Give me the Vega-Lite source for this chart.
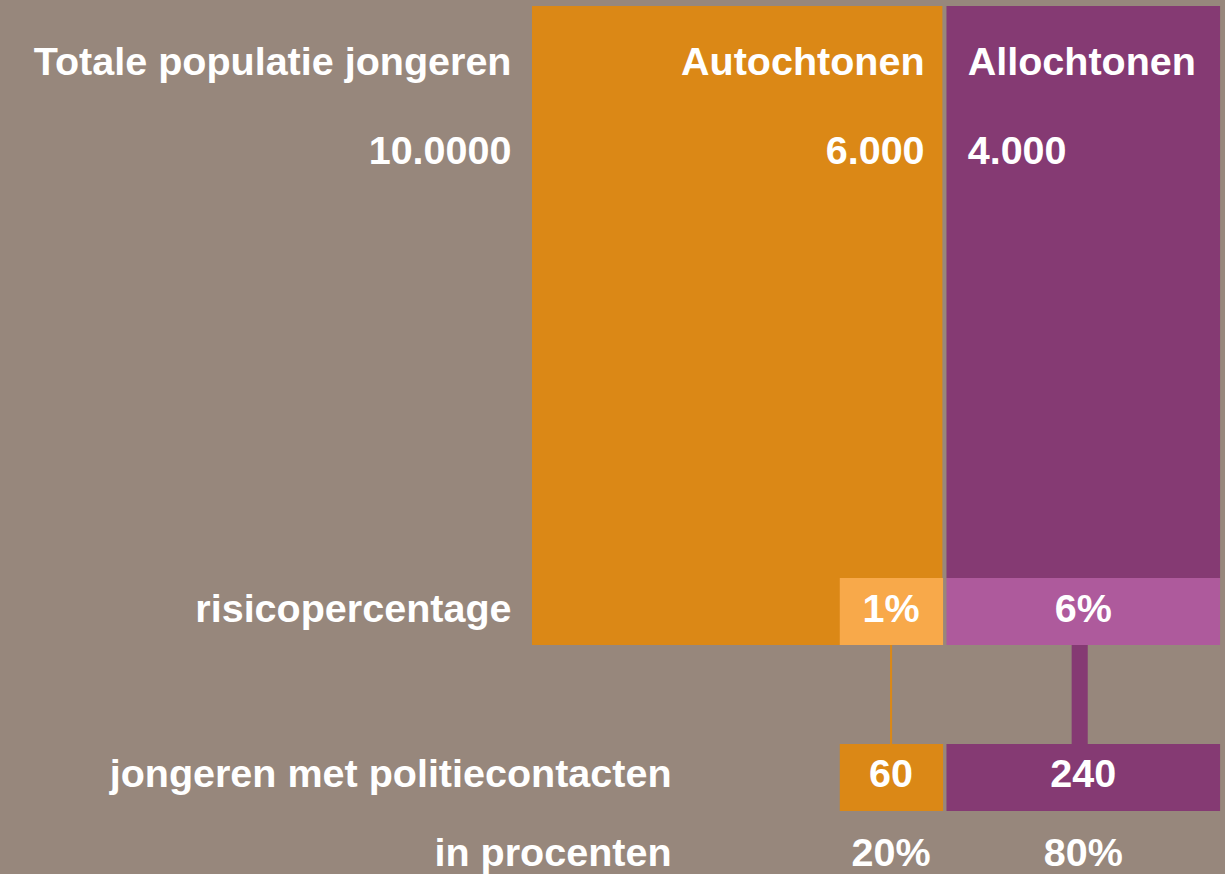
{
  "$schema": "https://vega.github.io/schema/vega-lite/v6.json",
  "width": 1225,
  "height": 874,
  "autosize": {"type": "fit", "contains": "padding"},
  "padding": 0,
  "background": "#97877c",
  "config": {"view": {"stroke": null}, "text": {"font": "Liberation Sans", "fontWeight": "bold", "fontSize": 39.5, "color": "#ffffff", "baseline": "alphabetic"}},
  "datasets": {
    "vlakken": [
      {"groep": "Autochtonen", "laag": "populatie (6.000)", "van": 0, "tot": 6000, "boven": 6, "onder": 645},
      {"groep": "Allochtonen", "laag": "populatie (4.000)", "van": 6060, "tot": 10060, "boven": 6, "onder": 578},
      {"groep": "Autochtonen risico", "laag": "risicopercentage 1%", "van": 4500, "tot": 6010, "boven": 578, "onder": 645},
      {"groep": "Allochtonen risico", "laag": "risicopercentage 6%", "van": 6060, "tot": 10060, "boven": 578, "onder": 645},
      {"groep": "Autochtonen", "laag": "politiecontacten 60", "van": 4500, "tot": 6010, "boven": 744, "onder": 811},
      {"groep": "Allochtonen", "laag": "politiecontacten 240", "van": 6060, "tot": 10060, "boven": 744, "onder": 811}
    ],
    "verbindingen": [
      {"groep": "Autochtonen", "van": 5235, "tot": 5265, "boven": 645, "onder": 744},
      {"groep": "Allochtonen", "van": 7890, "tot": 8125, "boven": 645, "onder": 744}
    ],
    "teksten": [
      {"tekst": "Totale populatie jongeren", "uitlijning": "right", "x": -300, "y": 75},
      {"tekst": "10.0000", "uitlijning": "right", "x": -300, "y": 164},
      {"tekst": "risicopercentage", "uitlijning": "right", "x": -300, "y": 622},
      {"tekst": "jongeren met politiecontacten", "uitlijning": "right", "x": 2040, "y": 787},
      {"tekst": "in procenten", "uitlijning": "right", "x": 2040, "y": 866},
      {"tekst": "Autochtonen", "uitlijning": "right", "x": 5740, "y": 75},
      {"tekst": "6.000", "uitlijning": "right", "x": 5740, "y": 164},
      {"tekst": "Allochtonen", "uitlijning": "left", "x": 6370, "y": 75},
      {"tekst": "4.000", "uitlijning": "left", "x": 6370, "y": 164},
      {"tekst": "1%", "uitlijning": "center", "x": 5250, "y": 622},
      {"tekst": "6%", "uitlijning": "center", "x": 8060, "y": 622},
      {"tekst": "60", "uitlijning": "center", "x": 5250, "y": 787},
      {"tekst": "240", "uitlijning": "center", "x": 8060, "y": 787},
      {"tekst": "20%", "uitlijning": "center", "x": 5250, "y": 866},
      {"tekst": "80%", "uitlijning": "center", "x": 8060, "y": 866}
    ]
  },
  "layer": [
    {
      "data": {"name": "vlakken"},
      "mark": {"type": "rect"},
      "encoding": {
        "x": {"field": "van", "type": "quantitative", "scale": {"domain": [-7778, 10132], "nice": false, "zero": false}, "axis": null},
        "x2": {"field": "tot"},
        "y": {"field": "boven", "type": "quantitative", "scale": {"domain": [0, 874], "reverse": true, "nice": false, "zero": false}, "axis": null},
        "y2": {"field": "onder"},
        "color": {"field": "groep", "type": "nominal", "legend": null, "scale": {"domain": ["Autochtonen", "Allochtonen", "Autochtonen risico", "Allochtonen risico"], "range": ["#db8816", "#853a73", "#f8a94a", "#ae5a9c"]}}
      }
    },
    {
      "data": {"name": "verbindingen"},
      "mark": {"type": "rect"},
      "encoding": {
        "x": {"field": "van", "type": "quantitative"},
        "x2": {"field": "tot"},
        "y": {"field": "boven", "type": "quantitative"},
        "y2": {"field": "onder"},
        "color": {"field": "groep", "type": "nominal", "legend": null}
      }
    },
    {
      "data": {"name": "teksten"},
      "transform": [{"filter": "datum.uitlijning === 'right'"}],
      "mark": {"type": "text", "align": "right"},
      "encoding": {
        "x": {"field": "x", "type": "quantitative"},
        "y": {"field": "y", "type": "quantitative"},
        "text": {"field": "tekst"}
      }
    },
    {
      "data": {"name": "teksten"},
      "transform": [{"filter": "datum.uitlijning === 'left'"}],
      "mark": {"type": "text", "align": "left"},
      "encoding": {
        "x": {"field": "x", "type": "quantitative"},
        "y": {"field": "y", "type": "quantitative"},
        "text": {"field": "tekst"}
      }
    },
    {
      "data": {"name": "teksten"},
      "transform": [{"filter": "datum.uitlijning === 'center'"}],
      "mark": {"type": "text", "align": "center"},
      "encoding": {
        "x": {"field": "x", "type": "quantitative"},
        "y": {"field": "y", "type": "quantitative"},
        "text": {"field": "tekst"}
      }
    }
  ]
}
